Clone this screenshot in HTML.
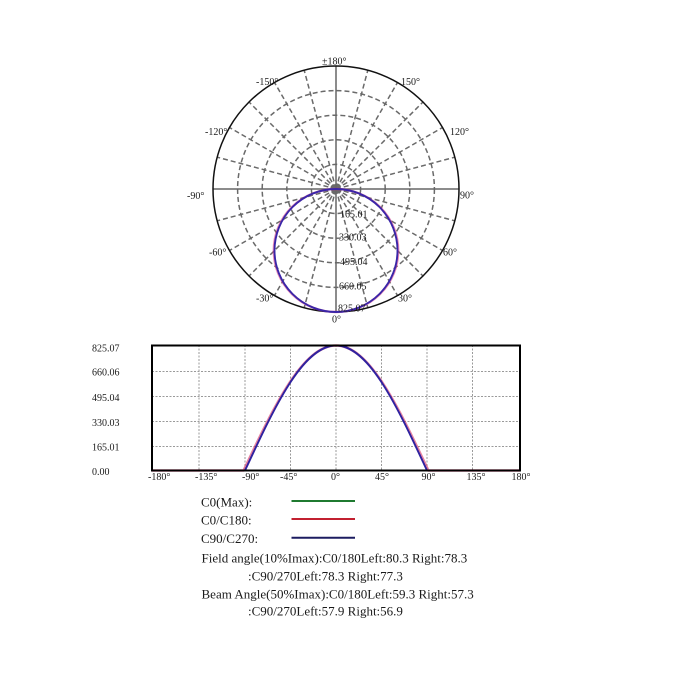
<!DOCTYPE html>
<html>
<head>
<meta charset="utf-8">
<style>
html,body{margin:0;padding:0;background:#fff;}
svg{display:block;}
text{font-family:"Liberation Serif","DejaVu Serif",serif;fill:#1a1a1a;}
</style>
</head>
<body>
<svg width="676" height="676" viewBox="0 0 676 676" xmlns="http://www.w3.org/2000/svg">
<rect width="676" height="676" fill="#fff"/>

<!-- ===== Polar chart ===== -->
<g fill="none" stroke="#6a6a6a" stroke-width="1.5" stroke-dasharray="5,3">
  <circle cx="336" cy="189" r="24.6"/>
  <circle cx="336" cy="189" r="49.2"/>
  <circle cx="336" cy="189" r="73.8"/>
  <circle cx="336" cy="189" r="98.4"/>
  <circle cx="336" cy="189" r="5"/>
  <line x1="336" y1="189" x2="336" y2="312" transform="rotate(15 336 189)"/>
  <line x1="336" y1="189" x2="336" y2="312" transform="rotate(30 336 189)"/>
  <line x1="336" y1="189" x2="336" y2="312" transform="rotate(45 336 189)"/>
  <line x1="336" y1="189" x2="336" y2="312" transform="rotate(60 336 189)"/>
  <line x1="336" y1="189" x2="336" y2="312" transform="rotate(75 336 189)"/>
  <line x1="336" y1="189" x2="336" y2="312" transform="rotate(105 336 189)"/>
  <line x1="336" y1="189" x2="336" y2="312" transform="rotate(120 336 189)"/>
  <line x1="336" y1="189" x2="336" y2="312" transform="rotate(135 336 189)"/>
  <line x1="336" y1="189" x2="336" y2="312" transform="rotate(150 336 189)"/>
  <line x1="336" y1="189" x2="336" y2="312" transform="rotate(165 336 189)"/>
  <line x1="336" y1="189" x2="336" y2="312" transform="rotate(195 336 189)"/>
  <line x1="336" y1="189" x2="336" y2="312" transform="rotate(210 336 189)"/>
  <line x1="336" y1="189" x2="336" y2="312" transform="rotate(225 336 189)"/>
  <line x1="336" y1="189" x2="336" y2="312" transform="rotate(240 336 189)"/>
  <line x1="336" y1="189" x2="336" y2="312" transform="rotate(255 336 189)"/>
  <line x1="336" y1="189" x2="336" y2="312" transform="rotate(285 336 189)"/>
  <line x1="336" y1="189" x2="336" y2="312" transform="rotate(300 336 189)"/>
  <line x1="336" y1="189" x2="336" y2="312" transform="rotate(315 336 189)"/>
  <line x1="336" y1="189" x2="336" y2="312" transform="rotate(330 336 189)"/>
  <line x1="336" y1="189" x2="336" y2="312" transform="rotate(345 336 189)"/>
</g>
<g stroke="#666" stroke-width="1.5">
  <line x1="336" y1="66" x2="336" y2="312"/>
  <line x1="213" y1="189" x2="459" y2="189"/>
</g>
<circle cx="336" cy="189" r="123" fill="none" stroke="#111" stroke-width="1.5"/>

<!-- polar curves -->
<ellipse cx="336" cy="250.5" rx="62.2" ry="61.5" fill="none" stroke="#d83080" stroke-width="2.4" stroke-opacity="0.55"/>
<circle cx="336" cy="250.5" r="61.5" fill="none" stroke="#3a26a8" stroke-width="1.9"/>

<!-- polar labels -->
<g font-size="10">
  <text x="322" y="64.5">±180°</text>
  <text x="256" y="85">-150°</text>
  <text x="401" y="85">150°</text>
  <text x="205" y="135">-120°</text>
  <text x="450" y="135">120°</text>
  <text x="187" y="199">-90°</text>
  <text x="460" y="198.5">90°</text>
  <text x="209" y="255.5">-60°</text>
  <text x="443" y="255.5">60°</text>
  <text x="256" y="301.5">-30°</text>
  <text x="398" y="301.5">30°</text>
  <text x="332" y="322.5">0°</text>
  <text x="340" y="217.5">165.01</text>
  <text x="339" y="240.5">330.03</text>
  <text x="340" y="265">495.04</text>
  <text x="339" y="289.5">660.05</text>
  <text x="338" y="311.5">825.07</text>
</g>

<!-- ===== Cartesian chart ===== -->
<g stroke="#9a9a9a" stroke-width="1" stroke-dasharray="2,1.5" fill="none">
  <line x1="152" y1="371.5" x2="520" y2="371.5"/>
  <line x1="152" y1="396.5" x2="520" y2="396.5"/>
  <line x1="152" y1="421.5" x2="520" y2="421.5"/>
  <line x1="152" y1="446.5" x2="520" y2="446.5"/>
  <line x1="199" y1="345" x2="199" y2="471"/>
  <line x1="245" y1="345" x2="245" y2="471"/>
  <line x1="290.5" y1="345" x2="290.5" y2="471"/>
  <line x1="336" y1="345" x2="336" y2="471"/>
  <line x1="381.5" y1="345" x2="381.5" y2="471"/>
  <line x1="427" y1="345" x2="427" y2="471"/>
  <line x1="472.5" y1="345" x2="472.5" y2="471"/>
</g>

<!-- curves -->
<path d="M152 470.5 L243.5 470.5 C273.9 406.46 302.6 345.5 336 345.5 C369.4 345.5 398.1 406.46 428.5 470.5 L520 470.5" fill="none" stroke="#d83060" stroke-width="2.4" stroke-opacity="0.6"/>
<path d="M152 470.5 L245 470.5 C274.68 406.46 303.07 345.5 336 345.5 C368.93 345.5 397.32 406.46 427 470.5 L520 470.5" fill="none" stroke="#2e22a0" stroke-width="1.9"/>

<rect x="152" y="345.5" width="368" height="125" fill="none" stroke="#000" stroke-width="2"/>

<g font-size="10">
  <text x="92" y="351.5">825.07</text>
  <text x="92" y="375.5">660.06</text>
  <text x="92" y="401">495.04</text>
  <text x="92" y="426">330.03</text>
  <text x="92" y="450.5">165.01</text>
  <text x="92" y="475">0.00</text>

  <text x="148" y="480">-180°</text>
  <text x="195" y="480">-135°</text>
  <text x="242" y="480">-90°</text>
  <text x="280" y="480">-45°</text>
  <text x="331" y="480">0°</text>
  <text x="375" y="480">45°</text>
  <text x="421.5" y="480">90°</text>
  <text x="466.5" y="480">135°</text>
  <text x="511.5" y="480">180°</text>
</g>

<!-- ===== Legend ===== -->
<g font-size="13">
  <text x="201" y="506.5">C0(Max):</text>
  <text x="201" y="524.5">C0/C180:</text>
  <text x="201" y="543">C90/C270:</text>
  <text x="201.5" y="562.3">Field angle(10%Imax):C0/180Left:80.3 Right:78.3</text>
  <text x="248" y="580.5">:C90/270Left:78.3 Right:77.3</text>
  <text x="201.5" y="598.3">Beam Angle(50%Imax):C0/180Left:59.3 Right:57.3</text>
  <text x="248" y="615.7">:C90/270Left:57.9 Right:56.9</text>
</g>
<line x1="291.5" y1="501" x2="355" y2="501" stroke="#1f7a30" stroke-width="2"/>
<line x1="291.5" y1="519" x2="355" y2="519" stroke="#c22030" stroke-width="2"/>
<line x1="291.5" y1="537.7" x2="355" y2="537.7" stroke="#1c1c60" stroke-width="2"/>
</svg>
</body>
</html>
